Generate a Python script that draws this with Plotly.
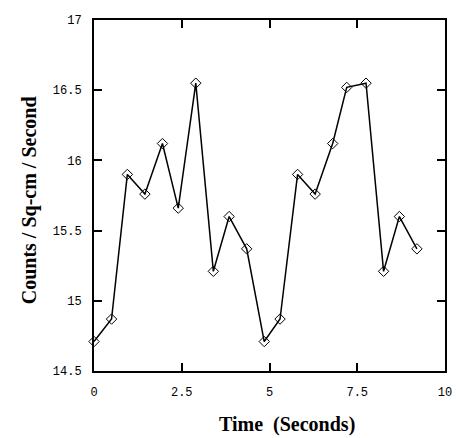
import plotly.graph_objects as go

time_s = [0.0, 0.5, 0.95, 1.45, 1.95, 2.4, 2.9, 3.4, 3.85, 4.35,
          4.85, 5.3, 5.8, 6.3, 6.8, 7.2, 7.75, 8.25, 8.7, 9.2]
counts = [14.71, 14.87, 15.90, 15.76, 16.12, 15.66, 16.55, 15.21, 15.60, 15.37,
          14.71, 14.87, 15.90, 15.76, 16.12, 16.52, 16.55, 15.21, 15.60, 15.37]
x_ticks = [0, 2.5, 5, 7.5, 10]
x_tick_labels = ["0", "2.5", "5", "7.5", "10"]
y_ticks = [14.5, 15, 15.5, 16, 16.5, 17]
y_tick_labels = ["14.5", "15", "15.5", "16", "16.5", "17"]

W, H = 456, 438
ml, mr, mt, mb = 94, 4, 20, 67
pw, ph = W - ml - mr, H - mt - mb

fig = go.Figure()
fig.add_trace(go.Scatter(
    x=time_s, y=counts, mode="lines+markers",
    line=dict(color="black", width=1.5),
    marker=dict(symbol="diamond-open", size=8, color="black", line=dict(width=1)),
    showlegend=False,
    cliponaxis=False,
))

tickfont = dict(family="Liberation Mono", size=12, color="black")
titlefont = dict(family="Liberation Serif", size=20, color="black", weight="bold")

fig.update_layout(
    width=W, height=H,
    autosize=False,
    margin=dict(l=ml, r=mr, t=mt, b=mb, pad=0),
    paper_bgcolor="white",
    plot_bgcolor="white",
    xaxis=dict(
        range=[0, 10], tickmode="array", tickvals=x_ticks, ticktext=x_tick_labels,
        ticks="inside", ticklen=8, tickwidth=2, tickcolor="black",
        showline=True, linecolor="black", linewidth=2, mirror="allticks",
        showgrid=False, zeroline=False, tickfont=tickfont, ticklabelstandoff=9,
        ticklabeloverflow="allow",
    ),
    yaxis=dict(
        range=[14.5, 17], tickmode="array", tickvals=y_ticks, ticktext=y_tick_labels,
        ticks="inside", ticklen=8, tickwidth=2, tickcolor="black",
        showline=True, linecolor="black", linewidth=2, mirror="allticks",
        showgrid=False, zeroline=False, tickfont=tickfont, ticklabelstandoff=8,
        ticklabeloverflow="allow",
    ),
    annotations=[
        dict(text="Time  (Seconds)", xref="paper", yref="paper",
             x=(291 - ml) / pw, y=(H - mb - 425) / ph,
             xanchor="center", yanchor="middle", showarrow=False, font=titlefont),
        dict(text="Counts / Sq-cm / Second", xref="paper", yref="paper",
             x=(29 - ml) / pw, y=(H - mb - 200) / ph,
             xanchor="center", yanchor="middle", showarrow=False, textangle=-90,
             font=titlefont),
    ],
)

fig.write_html("out.html", config={"displayModeBar": False, "responsive": False},
               post_script="document.body.style.margin='0';document.body.style.overflow='hidden';")
